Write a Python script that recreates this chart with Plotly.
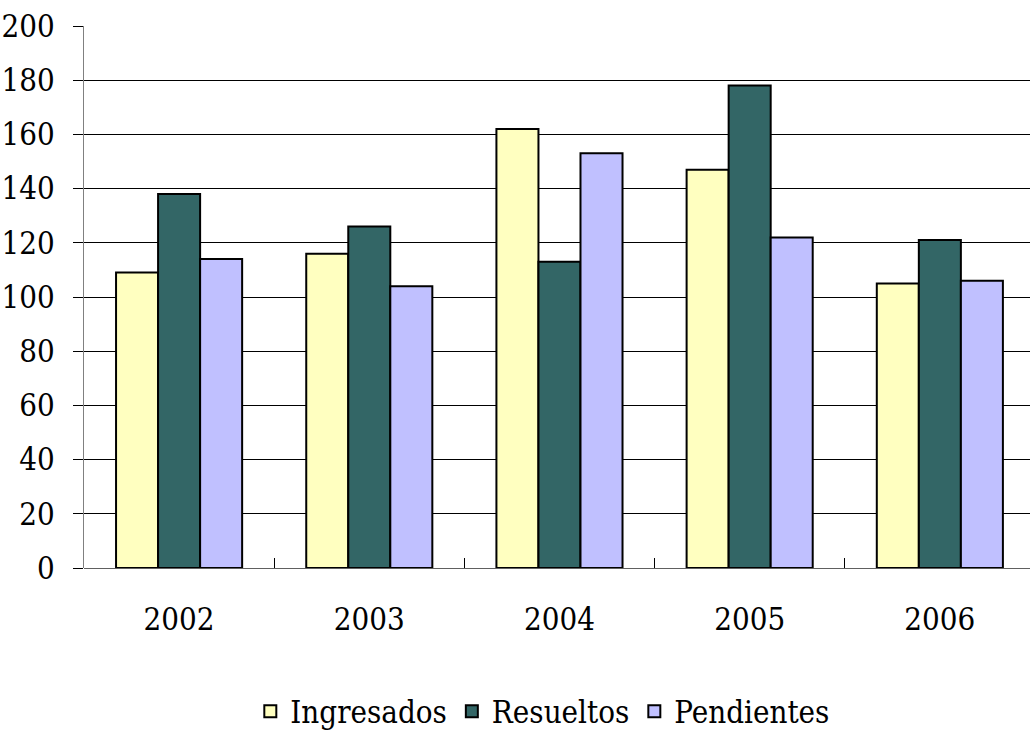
import plotly.graph_objects as go

years = ["2002", "2003", "2004", "2005", "2006"]
ingresados = [109, 116, 162, 147, 105]
resueltos = [138, 126, 113, 178, 121]
pendientes = [114, 104, 153, 122, 106]

series = [
    ("Ingresados", ingresados, "#FFFFC0"),
    ("Resueltos", resueltos, "#336666"),
    ("Pendientes", pendientes, "#C0C0FF"),
]

fig = go.Figure()
for name, vals, col in series:
    fig.add_trace(go.Bar(
        x=years, y=vals, name=name,
        marker=dict(color=col, line=dict(color="black", width=2)),
    ))

font = "DejaVu Serif Condensed"
fig.update_layout(
    width=1030, height=733,
    margin=dict(l=84, r=0, t=26, b=165, autoexpand=False),
    paper_bgcolor="white", plot_bgcolor="white",
    barmode="group", bargap=0.337, bargroupgap=0,
    font=dict(family=font, size=31, color="black"),
    showlegend=True,
    legend=dict(
        orientation="h", x=0.485, xanchor="center", y=-0.215, yanchor="top",
        font=dict(family=font, size=31, color="black"),
        itemwidth=30, tracegroupgap=0,
    ),
    xaxis=dict(
        type="category", range=[-0.5, 4.474],
        showline=False, showgrid=False,
        ticks="inside", tickson="boundaries", ticklen=10, tickcolor="black",
        tickfont=dict(family=font, size=31, color="black"),
        ticklabelstandoff=30,
    ),
    yaxis=dict(
        range=[0, 200], dtick=20,
        showgrid=True, gridcolor="black", gridwidth=1,
        showline=True, linecolor="#808080", linewidth=1,
        ticks="outside", ticklen=10, tickcolor="black",
        tickfont=dict(family=font, size=31, color="black"),
        ticklabelstandoff=12,
        zeroline=True, zerolinecolor="#606060", zerolinewidth=1,
    ),
)

fig.write_html("out.html")
